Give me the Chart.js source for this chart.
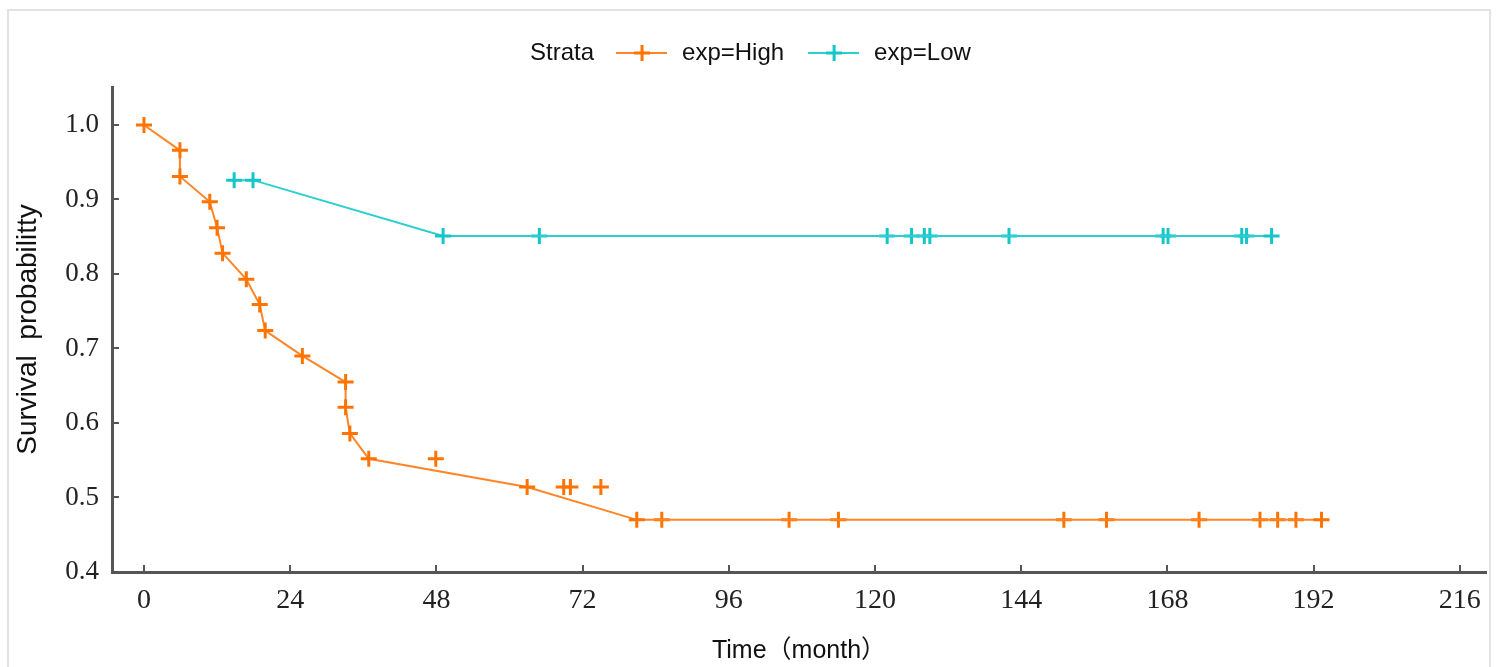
<!DOCTYPE html>
<html>
<head>
<meta charset="utf-8">
<script src="https://cdn.jsdelivr.net/npm/chart.js@4"></script>
<style>
  html, body { margin: 0; padding: 0; background: #fff; }
  #wrap { position: relative; width: 1497px; height: 667px; }
</style>
</head>
<body>
<div id="wrap"><canvas id="chart"></canvas></div>
<script>
const xTicks = [0, 24, 48, 72, 96, 120, 144, 168, 192, 216];
const yTicks = [0.4, 0.5, 0.6, 0.7, 0.8, 0.9, 1.0];

// exp=High: line vertices (all marked)
const highTime = [0, 5.9, 5.9, 10.8, 12.0, 12.9, 16.8, 19.0, 19.9, 26.0, 33.1, 33.1, 33.8, 36.9, 62.9, 80.9, 193.3];
const highSurv = [1.0, 0.966, 0.931, 0.897, 0.862, 0.828, 0.793, 0.759, 0.724, 0.690, 0.655, 0.621, 0.586, 0.552, 0.514, 0.470, 0.470];
// exp=High: other censor marks
const highCensTime = [47.9, 68.9, 70.0, 75.0, 85.0, 105.9, 114.0, 151.0, 158.0, 173.2, 183.2, 186.1, 189.1];
const highCensSurv = [0.552, 0.514, 0.514, 0.514, 0.470, 0.470, 0.470, 0.470, 0.470, 0.470, 0.470, 0.470, 0.470];

// exp=Low
const lowTime = [14.8, 17.9, 49.1, 185.1];
const lowSurv = [0.926, 0.926, 0.851, 0.851];
const lowCensTime = [64.9, 122.0, 126.0, 128.1, 129.0, 142.0, 167.3, 168.1, 180.2, 181.0];
const lowCensSurv = [0.851, 0.851, 0.851, 0.851, 0.851, 0.851, 0.851, 0.851, 0.851, 0.851];

const highColor = "#ff8526";
const highMark = "#ff7300";
const lowColor = "#2ccfcf";
const lowMark = "#14c6c9";

function toPoints(xs, ys) {
  return xs.map((x, i) => ({ x: x, y: ys[i] }));
}

const frame = {
  id: "frame",
  beforeDraw(chart) {
    const ctx = chart.ctx;
    ctx.save();
    ctx.strokeStyle = "#e2e2e2";
    ctx.lineWidth = 2;
    ctx.beginPath();
    ctx.moveTo(8, 700);
    ctx.lineTo(8, 10);
    ctx.lineTo(1490, 10);
    ctx.lineTo(1490, 700);
    ctx.stroke();
    ctx.restore();
  },
};

const innerTicks = {
  id: "innerTicks",
  afterDraw(chart) {
    const ctx = chart.ctx;
    const area = chart.chartArea;
    const xs = chart.scales.x;
    const ys = chart.scales.y;
    ctx.save();
    ctx.strokeStyle = "#555";
    ctx.lineWidth = 2;
    ctx.beginPath();
    xTicks.forEach((v) => {
      const px = Math.round(xs.getPixelForValue(v));
      ctx.moveTo(px, area.bottom);
      ctx.lineTo(px, area.bottom - 7);
    });
    yTicks.forEach((v) => {
      const py = Math.round(ys.getPixelForValue(v));
      ctx.moveTo(area.left, py);
      ctx.lineTo(area.left + 7, py);
    });
    ctx.stroke();
    ctx.restore();
  },
};

function drawCross(ctx, cx, cy, r, color) {
  ctx.strokeStyle = color;
  ctx.lineWidth = 3;
  ctx.beginPath();
  ctx.moveTo(cx - r, cy);
  ctx.lineTo(cx + r, cy);
  ctx.moveTo(cx, cy - r);
  ctx.lineTo(cx, cy + r);
  ctx.stroke();
}

const strataLegend = {
  id: "strataLegend",
  afterDraw(chart) {
    const ctx = chart.ctx;
    const y = 53;
    let x = 530;
    ctx.save();
    ctx.font = "24px 'Liberation Sans', Arial, sans-serif";
    ctx.fillStyle = "#111";
    ctx.textBaseline = "middle";
    ctx.fillText("Strata", x, y);
    x += ctx.measureText("Strata").width + 22;
    const items = [
      { label: "exp=High", line: highColor, mark: highMark },
      { label: "exp=Low", line: lowColor, mark: lowMark },
    ];
    items.forEach((it) => {
      ctx.strokeStyle = it.line;
      ctx.lineWidth = 2;
      ctx.beginPath();
      ctx.moveTo(x, y);
      ctx.lineTo(x + 51, y);
      ctx.stroke();
      drawCross(ctx, x + 26, y, 8, it.mark);
      x += 51 + 15;
      ctx.fillStyle = "#111";
      ctx.fillText(it.label, x, y);
      x += ctx.measureText(it.label).width + 24;
    });
    ctx.restore();
  },
};

const markStyle = {
  showLine: false,
  pointStyle: "cross",
  pointRadius: 8,
  pointBorderWidth: 3,
  pointHoverRadius: 8,
};

new Chart(document.getElementById("chart"), {
  type: "scatter",
  data: {
    datasets: [
      {
        label: "exp=High",
        data: toPoints(highTime, highSurv),
        showLine: true,
        borderColor: highColor,
        borderWidth: 2,
        pointStyle: "cross",
        pointRadius: 8,
        pointBorderWidth: 3,
        pointBorderColor: highMark,
        pointBackgroundColor: highMark,
      },
      Object.assign({}, markStyle, {
        label: "exp=High censored",
        data: toPoints(highCensTime, highCensSurv),
        borderColor: highMark,
        backgroundColor: highMark,
      }),
      {
        label: "exp=Low",
        data: toPoints(lowTime, lowSurv),
        showLine: true,
        borderColor: lowColor,
        borderWidth: 2,
        pointStyle: "cross",
        pointRadius: 8,
        pointBorderWidth: 3,
        pointBorderColor: lowMark,
        pointBackgroundColor: lowMark,
      },
      Object.assign({}, markStyle, {
        label: "exp=Low censored",
        data: toPoints(lowCensTime, lowCensSurv),
        borderColor: lowMark,
        backgroundColor: lowMark,
      }),
    ],
  },
  options: {
    responsive: true,
    maintainAspectRatio: false,
    devicePixelRatio: 1,
    animation: false,
    layout: { padding: { left: 0, top: 87, right: 10, bottom: 0 } },
    plugins: {
      legend: { display: false },
      tooltip: { enabled: false },
    },
    scales: {
      x: {
        type: "linear",
        min: -5.25,
        max: 220.3,
        afterBuildTicks: (s) => { s.ticks = xTicks.map((v) => ({ value: v })); },
        afterFit: (s) => { s.height = 95; },
        grid: { display: false, drawTicks: false },
        border: { display: true, color: "#555", width: 3 },
        ticks: {
          padding: 12,
          color: "#222",
          font: { family: "'Liberation Serif', 'DejaVu Serif', serif", size: 28 },
        },
        title: {
          display: true,
          text: "Time（month）",
          color: "#111",
          font: { family: "'Liberation Sans', 'Noto Sans CJK SC', sans-serif", size: 25 },
          padding: { top: 0, bottom: 1 },
        },
      },
      y: {
        type: "linear",
        min: 0.4,
        max: 1.051,
        afterBuildTicks: (s) => { s.ticks = yTicks.map((v) => ({ value: v })); },
        afterFit: (s) => { s.width = 112; },
        grid: { display: false, drawTicks: false },
        border: { display: true, color: "#555", width: 3 },
        ticks: {
          padding: 13,
          color: "#222",
          font: { family: "'Liberation Serif', 'DejaVu Serif', serif", size: 27 },
          callback: (v) => v.toFixed(1),
        },
        title: {
          display: true,
          text: "Survival  probabilitty",
          color: "#111",
          font: { family: "'Liberation Sans', Arial, sans-serif", size: 28 },
          padding: { top: 11, bottom: 0 },
        },
      },
    },
  },
  plugins: [frame, innerTicks, strataLegend],
});
</script>
</body>
</html>
